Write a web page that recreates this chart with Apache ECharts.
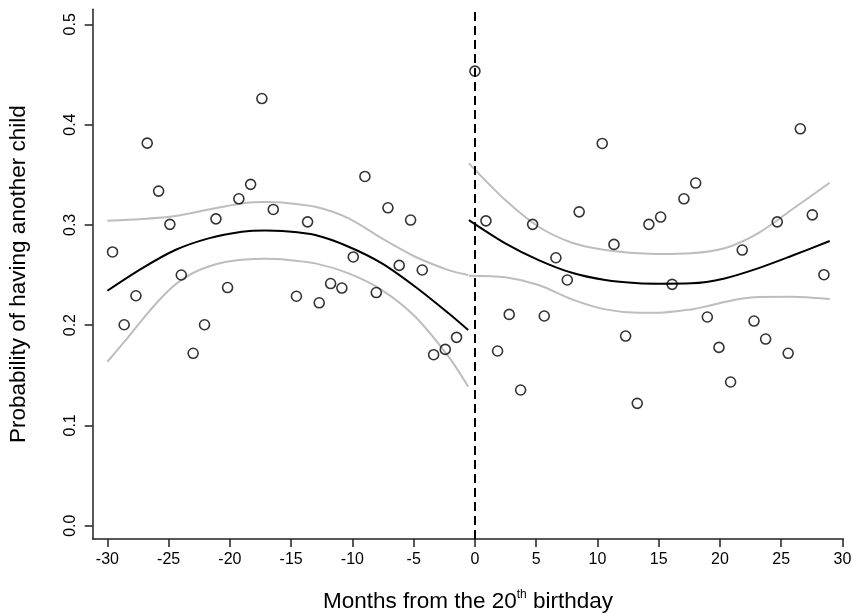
<!DOCTYPE html>
<html>
<head>
<meta charset="utf-8">
<script src="https://cdn.jsdelivr.net/npm/echarts@6/dist/echarts.min.js"></script>
<style>
  html, body { margin: 0; padding: 0; background: #fff; }
  #chart { width: 852px; height: 614px; }
</style>
</head>
<body>
<div id="chart"></div>
<script>
// monthly means, before and after the 20th birthday
var monthsLeft = [-29.58, -28.63, -27.67, -26.75, -25.82, -24.9, -23.97, -23.0, -22.07, -21.14,
  -20.19, -19.27, -18.31, -17.39, -16.46, -14.57, -13.66, -12.71, -11.78, -10.86,
  -9.93, -8.98, -8.05, -7.1, -6.18, -5.25, -4.3, -3.37, -2.42, -1.5];
var probLeft = [0.273, 0.2004, 0.2293, 0.3815, 0.3337, 0.3005, 0.250, 0.1719, 0.2004, 0.306,
  0.2375, 0.326, 0.3404, 0.426, 0.3154, 0.2288, 0.303, 0.2223, 0.2415, 0.237,
  0.268, 0.3483, 0.2325, 0.317, 0.2596, 0.3048, 0.255, 0.1705, 0.1758, 0.1878];

var monthsRight = [0, 0.9, 1.85, 2.8, 3.73, 4.71, 5.66, 6.61, 7.54, 8.51,
  10.39, 11.35, 12.3, 13.25, 14.2, 15.16, 16.1, 17.06, 18.02, 18.97,
  19.92, 20.87, 21.82, 22.78, 23.73, 24.68, 25.57, 26.56, 27.54, 28.49];
var probRight = [0.4533, 0.304, 0.1742, 0.2107, 0.1353, 0.3005, 0.2091, 0.2672, 0.245, 0.313,
  0.3812, 0.2805, 0.1891, 0.122, 0.3005, 0.3078, 0.2407, 0.326, 0.3417, 0.2081,
  0.1778, 0.1433, 0.2749, 0.2041, 0.1861, 0.303, 0.1719, 0.3958, 0.310, 0.2503];

// fitted curves and confidence bands
var fitXLeft = [-30, -27.18, -24.46, -21.74, -19.02, -17.12, -15.7, -13.03, -10.31, -7.59, -4.87, -2.15, -0.55];
var fitLeft = [0.2343, 0.2566, 0.2749, 0.2865, 0.2931, 0.2945, 0.2938, 0.2898, 0.2782, 0.2616, 0.2383, 0.2118, 0.1951];
var hiLeft = [0.3041, 0.3058, 0.3088, 0.3154, 0.3214, 0.3227, 0.3222, 0.318, 0.3065, 0.2865, 0.2682, 0.2549, 0.25];

var loXLeft = [-30, -28.54, -27.18, -25.82, -24.46, -23.1, -21.74, -20.38, -19.02, -17.12, -15.7, -13.03, -10.31, -7.59, -4.87, -2.15, -0.55];
var loLeft = [0.1635, 0.1845, 0.2051, 0.2243, 0.2405, 0.2515, 0.2585, 0.2629, 0.2652, 0.2662, 0.2656, 0.2616, 0.2516, 0.235, 0.2084, 0.1685, 0.1386];

var fitXRight = [-0.49, 2.48, 5.2, 7.92, 10.64, 13.36, 15.0, 17.66, 20.38, 23.1, 25.82, 28.96];
var fitRight = [0.3048, 0.2816, 0.2649, 0.2522, 0.245, 0.2417, 0.2413, 0.2417, 0.2466, 0.2566, 0.2689, 0.2839];
var hiRight = [0.3613, 0.3247, 0.2981, 0.2822, 0.2749, 0.2716, 0.2709, 0.2716, 0.2766, 0.2915, 0.3148, 0.342];

var loXRight = [-0.49, 2.48, 5.2, 7.92, 10.64, 13.36, 15.0, 17.66, 19.02, 20.38, 21.74, 23.1, 25.82, 28.96];
var loRight = [0.2493, 0.2477, 0.24, 0.2257, 0.2157, 0.2124, 0.2124, 0.2157, 0.2191, 0.2231, 0.2263, 0.2281, 0.2283, 0.226];

var xTicks = [-30, -25, -20, -15, -10, -5, 0, 5, 10, 15, 20, 25, 30];
var yTicks = [0, 0.1, 0.2, 0.3, 0.4, 0.5];

function pairs(xs, ys) {
  return xs.map(function (x, i) { return [x, ys[i]]; });
}

var font = 'Liberation Sans, Arial, sans-serif';

function curve(xs, ys, color) {
  return {
    type: 'line',
    data: pairs(xs, ys),
    smooth: 0.3,
    showSymbol: false,
    silent: true,
    lineStyle: { color: color, width: 2 },
    z: 2
  };
}

function dots(xs, ys) {
  return {
    type: 'scatter',
    data: pairs(xs, ys),
    symbol: 'circle',
    symbolSize: 10,
    itemStyle: { color: 'rgba(0,0,0,0)', borderColor: '#000', borderWidth: 1.6 },
    z: 5
  };
}

var scatterLeft = dots(monthsLeft, probLeft);
scatterLeft.markLine = {
  silent: true,
  symbol: 'none',
  label: { show: false },
  lineStyle: { color: '#000', width: 2, type: [9, 5] },
  data: [{ xAxis: 0 }]
};

var option = {
  animation: false,
  backgroundColor: '#fff',
  grid: { left: 92.7, right: 8.7, top: 9.3, bottom: 75, containLabel: false, outerBoundsMode: 'none' },
  xAxis: {
    type: 'value',
    min: -31.2,
    max: 30.07,
    name: '{a|Months from the 20}{s|th}{a| birthday}',
    nameLocation: 'middle',
    nameGap: 50,
    nameTextStyle: {
      rich: {
        a: { fontFamily: font, fontSize: 22.5, color: '#000', lineHeight: 26 },
        s: { fontFamily: font, fontSize: 12, color: '#000', lineHeight: 12, verticalAlign: 'top' }
      }
    },
    axisLine: { onZero: false, lineStyle: { color: '#222', width: 1.5 } },
    axisTick: { customValues: xTicks, length: 8, lineStyle: { color: '#222', width: 1.5 } },
    axisLabel: { customValues: xTicks, fontFamily: font, fontSize: 16, color: '#000', margin: 13 },
    splitLine: { show: false }
  },
  yAxis: {
    type: 'value',
    min: -0.0133,
    max: 0.515,
    name: 'Probability of having another child',
    nameLocation: 'middle',
    nameGap: 62,
    nameTextStyle: { fontFamily: font, fontSize: 22.5, color: '#000' },
    axisLine: { onZero: false, lineStyle: { color: '#222', width: 1.5 } },
    axisTick: { customValues: yTicks, length: 8, lineStyle: { color: '#222', width: 1.5 } },
    axisLabel: {
      customValues: yTicks,
      rotate: 90,
      fontFamily: font,
      fontSize: 16,
      color: '#000',
      margin: 14,
      formatter: function (v) { return v.toFixed(1); }
    },
    splitLine: { show: false }
  },
  series: [
    curve(fitXLeft, hiLeft, '#bdbdbd'),
    curve(loXLeft, loLeft, '#bdbdbd'),
    curve(fitXRight, hiRight, '#bdbdbd'),
    curve(loXRight, loRight, '#bdbdbd'),
    curve(fitXLeft, fitLeft, '#000'),
    curve(fitXRight, fitRight, '#000'),
    scatterLeft,
    dots(monthsRight, probRight)
  ]
};

var chart = echarts.init(document.getElementById('chart'));
chart.setOption(option);
</script>
</body>
</html>
